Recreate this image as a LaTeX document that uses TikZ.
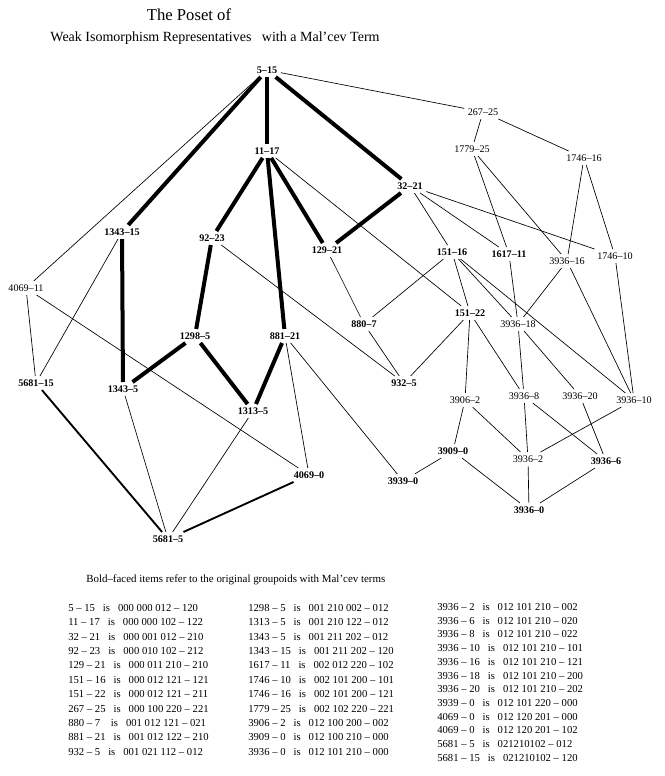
\documentclass[tikz,border=0pt]{standalone}
\usepackage{fontspec}
\setmainfont{Liberation Serif}
\begin{document}
\begin{tikzpicture}[x=0.75pt,y=-0.75pt,
  bold/.style={font=\fontsize{7.6}{9}\selectfont\bfseries, inner sep=2.5pt},
  plain/.style={font=\fontsize{7.6}{9}\selectfont, inner sep=2.5pt},
  thin/.style={line width=0.5pt},
  mid/.style={line width=1.4pt},
  heavy/.style={line width=3pt},
  row/.style={anchor=west, font=\fontsize{8}{9}\selectfont, inner sep=0pt}]
\useasboundingbox (0,0) rectangle (665,776);
% titles
\node[font=\fontsize{12.5}{14}\selectfont] (title) at (189,15) {The Poset of};
\node[font=\fontsize{10.5}{12}\selectfont] (subtitle) at (215,38) {Weak Isomorphism Representatives\ \ \ with a Mal'cev Term};
% the poset
\node[bold] (g5-15) at (267,70) {5--15};
\node[plain] (g267-25) at (483,112) {267--25};
\node[bold] (g11-17) at (267,151) {11--17};
\node[plain] (g1779-25) at (472,149) {1779--25};
\node[plain] (g1746-16) at (584,158) {1746--16};
\node[bold] (g32-21) at (410,186) {32--21};
\node[bold] (g1343-15) at (122,232) {1343--15};
\node[bold] (g92-23) at (212,238) {92--23};
\node[bold] (g129-21) at (327,250) {129--21};
\node[bold] (g151-16) at (452,252) {151--16};
\node[bold] (g1617-11) at (509,254) {1617--11};
\node[plain] (g3936-16) at (567,261) {3936--16};
\node[plain] (g1746-10) at (615,256) {1746--10};
\node[plain] (g4069-11) at (26,288) {4069--11};
\node[bold] (g880-7) at (364,324) {880--7};
\node[bold] (g151-22) at (470,313) {151--22};
\node[plain] (g3936-18) at (518,324) {3936--18};
\node[bold] (g1298-5) at (195,336) {1298--5};
\node[bold] (g881-21) at (285,336) {881--21};
\node[bold] (g5681-15) at (36,383) {5681--15};
\node[bold] (g1343-5) at (123,389) {1343--5};
\node[bold] (g932-5) at (404,383) {932--5};
\node[plain] (g3906-2) at (465,400) {3906--2};
\node[plain] (g3936-8) at (524,396) {3936--8};
\node[plain] (g3936-20) at (580,396) {3936--20};
\node[plain] (g3936-10) at (634,400) {3936--10};
\node[bold] (g1313-5) at (253,411) {1313--5};
\node[bold] (g3909-0) at (453,451) {3909--0};
\node[plain] (g3936-2) at (528,459) {3936--2};
\node[bold] (g3936-6) at (606,461) {3936--6};
\node[bold] (g4069-0) at (309,475) {4069--0};
\node[bold] (g3939-0) at (403,481) {3939--0};
\node[bold] (g3936-0) at (529,510) {3936--0};
\node[bold] (g5681-5) at (168,539) {5681--5};
% heavy edges
\draw[heavy] (g5-15) -- (g1343-15);
\draw[heavy] (g5-15) -- (g11-17);
\draw[heavy] (g5-15) -- (g32-21);
\draw[heavy] (g11-17) -- (g92-23);
\draw[heavy] (g11-17) -- (g881-21);
\draw[heavy] (g11-17) -- (g129-21);
\draw[heavy] (g32-21) -- (g129-21);
\draw[heavy] (g1343-15) -- (g1343-5);
\draw[heavy] (g92-23) -- (g1298-5);
\draw[heavy] (g1298-5) -- (g1343-5);
\draw[heavy] (g1298-5) -- (g1313-5);
\draw[heavy] (g881-21) -- (g1313-5);
\draw[mid] (g5681-15) -- (g5681-5);
\draw[mid] (g4069-0) -- (g5681-5);
% thin edges
\draw[thin] (g5-15) -- (g4069-11);
\draw[thin] (g5-15) -- (g267-25);
\draw[thin] (g267-25) -- (g1779-25);
\draw[thin] (g267-25) -- (g1746-16);
\draw[thin] (g1779-25) -- (g1617-11);
\draw[thin] (g1779-25) -- (g3936-16);
\draw[thin] (g1746-16) -- (g3936-16);
\draw[thin] (g1746-16) -- (g1746-10);
\draw[thin] (g32-21) -- (g151-16);
\draw[thin] (g32-21) -- (g1617-11);
\draw[thin] (g32-21) -- (g1746-10);
\draw[thin] (g11-17) -- (g151-22);
\draw[thin] (g129-21) -- (g880-7);
\draw[thin] (g151-16) -- (g880-7);
\draw[thin] (g151-16) -- (g151-22);
\draw[thin] (g151-16) -- (g3936-18);
\draw[thin] (g151-16) -- (g3936-10);
\draw[thin] (g1617-11) -- (g3936-18);
\draw[thin] (g3936-16) -- (g3936-18);
\draw[thin] (g3936-16) -- (g3936-10);
\draw[thin] (g1746-10) -- (g3936-10);
\draw[thin] (g92-23) -- (g932-5);
\draw[thin] (g880-7) -- (g932-5);
\draw[thin] (g151-22) -- (g932-5);
\draw[thin] (g151-22) -- (g3906-2);
\draw[thin] (g151-22) -- (g3936-8);
\draw[thin] (g3936-18) -- (g3936-8);
\draw[thin] (g3936-18) -- (g3936-20);
\draw[thin] (g3906-2) -- (g3909-0);
\draw[thin] (g3906-2) -- (g3936-2);
\draw[thin] (g3936-8) -- (g3936-2);
\draw[thin] (g3936-8) -- (g3936-6);
\draw[thin] (g3936-20) -- (g3936-6);
\draw[thin] (g3936-10) -- (g3936-2);
\draw[thin] (g3909-0) -- (g3939-0);
\draw[thin] (g3909-0) -- (g3936-0);
\draw[thin] (g3936-2) -- (g3936-0);
\draw[thin] (g3936-6) -- (g3936-0);
\draw[thin] (g881-21) -- (g4069-0);
\draw[thin] (g881-21) -- (g3939-0);
\draw[thin] (g4069-11) -- (g5681-15);
\draw[thin] (g4069-11) -- (g4069-0);
\draw[thin] (g1343-15) -- (g5681-15);
\draw[thin] (g1343-5) -- (g5681-5);
\draw[thin] (g1313-5) -- (g5681-5);
% key
\node[row, font=\fontsize{8.2}{9}\selectfont] (note) at (86,580) {Bold--faced items refer to the original groupoids with Mal'cev terms};
\node[row] (ra1) at (68,607.7) {5 -- 15\ \ \ is\ \ \ 000 000 012 -- 120};
\node[row] (ra2) at (68,622.1) {11 -- 17\ \ \ is\ \ \ 000 000 102 -- 122};
\node[row] (ra3) at (68,636.5) {32 -- 21\ \ \ is\ \ \ 000 001 012 -- 210};
\node[row] (ra4) at (68,650.9) {92 -- 23\ \ \ is\ \ \ 000 010 102 -- 212};
\node[row] (ra5) at (68,665.3) {129 -- 21\ \ \ is\ \ \ 000 011 210 -- 210};
\node[row] (ra6) at (68,679.7) {151 -- 16\ \ \ is\ \ \ 000 012 121 -- 121};
\node[row] (ra7) at (68,694.1) {151 -- 22\ \ \ is\ \ \ 000 012 121 -- 211};
\node[row] (ra8) at (68,708.5) {267 -- 25\ \ \ is\ \ \ 000 100 220 -- 221};
\node[row] (ra9) at (68,722.9) {880 -- 7\ \ \ \ is\ \ \ 001 012 121 -- 021};
\node[row] (ra10) at (68,737.3) {881 -- 21\ \ \ is\ \ \ 001 012 122 -- 210};
\node[row] (ra11) at (68,751.7) {932 -- 5\ \ \ is\ \ \ 001 021 112 -- 012};
\node[row] (rb1) at (248,607.7) {1298 -- 5\ \ \ is\ \ \ 001 210 002 -- 012};
\node[row] (rb2) at (248,622.1) {1313 -- 5\ \ \ is\ \ \ 001 210 122 -- 012};
\node[row] (rb3) at (248,636.5) {1343 -- 5\ \ \ is\ \ \ 001 211 202 -- 012};
\node[row] (rb4) at (248,650.9) {1343 -- 15\ \ \ is\ \ \ 001 211 202 -- 120};
\node[row] (rb5) at (248,665.3) {1617 -- 11\ \ \ is\ \ \ 002 012 220 -- 102};
\node[row] (rb6) at (248,679.7) {1746 -- 10\ \ \ is\ \ \ 002 101 200 -- 101};
\node[row] (rb7) at (248,694.1) {1746 -- 16\ \ \ is\ \ \ 002 101 200 -- 121};
\node[row] (rb8) at (248,708.5) {1779 -- 25\ \ \ is\ \ \ 002 102 220 -- 221};
\node[row] (rb9) at (248,722.9) {3906 -- 2\ \ \ is\ \ \ 012 100 200 -- 002};
\node[row] (rb10) at (248,737.3) {3909 -- 0\ \ \ is\ \ \ 012 100 210 -- 000};
\node[row] (rb11) at (248,751.7) {3936 -- 0\ \ \ is\ \ \ 012 101 210 -- 000};
\node[row] (rc1) at (437,607) {3936 -- 2\ \ \ is\ \ \ 012 101 210 -- 002};
\node[row] (rc2) at (437,620.7) {3936 -- 6\ \ \ is\ \ \ 012 101 210 -- 020};
\node[row] (rc3) at (437,634.4) {3936 -- 8\ \ \ is\ \ \ 012 101 210 -- 022};
\node[row] (rc4) at (437,648.1) {3936 -- 10\ \ \ is\ \ \ 012 101 210 -- 101};
\node[row] (rc5) at (437,661.8) {3936 -- 16\ \ \ is\ \ \ 012 101 210 -- 121};
\node[row] (rc6) at (437,675.5) {3936 -- 18\ \ \ is\ \ \ 012 101 210 -- 200};
\node[row] (rc7) at (437,689.2) {3936 -- 20\ \ \ is\ \ \ 012 101 210 -- 202};
\node[row] (rc8) at (437,702.9) {3939 -- 0\ \ \ is\ \ \ 012 101 220 -- 000};
\node[row] (rc9) at (437,716.6) {4069 -- 0\ \ \ is\ \ \ 012 120 201 -- 000};
\node[row] (rc10) at (437,730.3) {4069 -- 0\ \ \ is\ \ \ 012 120 201 -- 102};
\node[row] (rc11) at (437,744) {5681 -- 5\ \ \ is\ \ \ 021210102 -- 012};
\node[row] (rc12) at (437,757.7) {5681 -- 15\ \ \ is\ \ \ 021210102 -- 120};
\end{tikzpicture}
\end{document}
